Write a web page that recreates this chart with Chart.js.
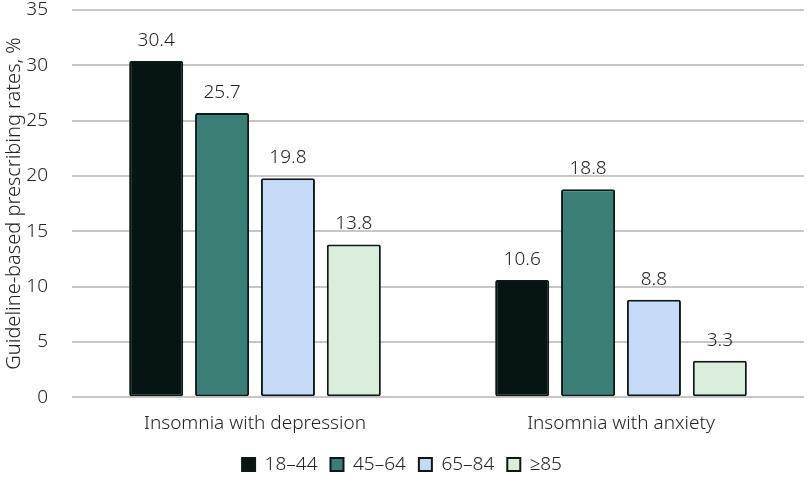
<!DOCTYPE html>
<html>
<head>
<meta charset="utf-8">
<script src="https://cdn.jsdelivr.net/npm/chart.js@4"></script>
<style>
  html, body { margin: 0; padding: 0; background: #fff; }
  #wrap { width: 807px; height: 477px; }
</style>
</head>
<body>
<div id="wrap"><canvas id="rxChart"></canvas></div>
<script>
// ---------- data

const categories = ["Insomnia with depression", "Insomnia with anxiety"];

const ageGroups = ["18\u201344", "45\u201364", "65\u201384", "\u226585"];

const age18to44 = [30.4, 10.6];
const age45to64 = [25.7, 18.8];
const age65to84 = [19.8, 8.8];
const age85plus = [13.8, 3.3];

const yTicks = [0, 5, 10, 15, 20, 25, 30, 35];

const fills = ["#061513", "#3a7e75", "#c3dbf7", "#dbeedc"];

const FONT = "'Noto Sans'";


// value labels above the bars
const valueLabels = {
    id: "valueLabels",
    afterDatasetsDraw(chart) {
        const ctx = chart.ctx;
        ctx.save();
        ctx.font = "300 19px " + FONT;
        ctx.fillStyle = "#222";
        ctx.textAlign = "center";
        ctx.textBaseline = "bottom";
        chart.data.datasets.forEach((ds, i) => {
            chart.getDatasetMeta(i).data.forEach((bar, j) => {
                ctx.fillText(ds.data[j].toFixed(1), bar.x, bar.y - 11);
            });
        });
        ctx.restore();
    }
};


const seriesData = [age18to44, age45to64, age65to84, age85plus];

new Chart(document.getElementById("rxChart"), {

    type: "bar",

    data: {
        labels: categories,
        datasets: ageGroups.map((name, i) => ({
            label: name,
            data: seriesData[i],
            backgroundColor: fills[i],
            borderColor: "#0c1816",
            borderWidth: 2,
            borderRadius: 2,
            borderSkipped: false,
            categoryPercentage: 0.72,
            barPercentage: 0.82
        }))
    },

    options: {
        responsive: true,
        maintainAspectRatio: false,
        animation: false,
        layout: { padding: { top: 10, right: 3, left: 0, bottom: -7 } },
        plugins: {
            tooltip: { enabled: false },
            legend: {
                position: "bottom",
                labels: {
                    font: { family: FONT, size: 19, weight: 300 },
                    color: "#222",
                    boxWidth: 13,
                    boxHeight: 13,
                    padding: 13
                }
            }
        },
        scales: {
            x: {
                grid: { display: false },
                border: { display: false },
                ticks: {
                    font: { family: FONT, size: 19, weight: 300 },
                    color: "#222",
                    padding: 7
                }
            },
            y: {
                min: 0,
                max: 35,
                afterBuildTicks: (s) => { s.ticks = yTicks.map(v => ({ value: v })); },
                afterFit: (s) => { s.width = 72; s.paddingTop = 0; s.paddingBottom = 0; },
                grid: { color: "#c4c8c7", lineWidth: 2, drawTicks: false },
                border: { display: false },
                ticks: {
                    font: { family: FONT, size: 19, weight: 300 },
                    color: "#222",
                    padding: 24
                },
                title: {
                    display: true,
                    text: "Guideline-based prescribing rates, %",
                    font: { family: FONT, size: 20, weight: 300 },
                    color: "#222",
                    padding: 2
                }
            }
        }
    },

    plugins: [valueLabels]
});
</script>
</body>
</html>
